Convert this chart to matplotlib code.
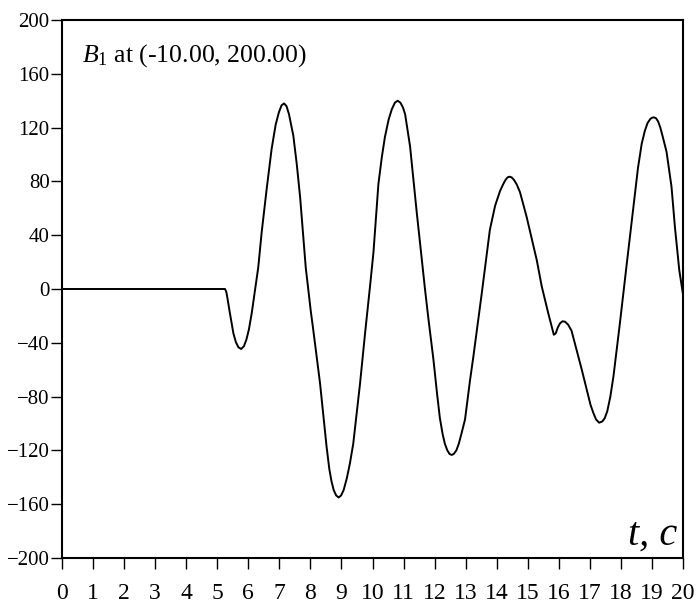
import matplotlib
matplotlib.use("Agg")
import matplotlib.pyplot as plt

plt.rcParams['font.family'] = ['Liberation Serif', 'DejaVu Serif']
plt.rcParams['mathtext.fontset'] = 'custom'
plt.rcParams['mathtext.rm'] = 'Liberation Serif'
plt.rcParams['mathtext.it'] = 'Liberation Serif:italic'

# time (s) and B1 values
t = [0, 5.25, 5.29, 5.33, 5.39, 5.46, 5.52, 5.6, 5.68, 5.77, 5.86, 5.94, 6.02,
     6.11, 6.22, 6.32, 6.43, 6.59, 6.75, 6.88, 6.98, 7.07, 7.15, 7.23, 7.31,
     7.45, 7.56, 7.67, 7.85, 8.01, 8.09, 8.2, 8.31, 8.42, 8.52, 8.61, 8.68,
     8.75, 8.83, 8.91, 8.99, 9.07, 9.17, 9.27, 9.38, 9.6, 9.76, 9.92, 10.03,
     10.19, 10.30, 10.40, 10.52, 10.62, 10.72, 10.81, 10.9, 10.98, 11.05,
     11.21, 11.42, 11.56, 11.69, 11.8, 11.96, 12.08, 12.17, 12.26, 12.33,
     12.41, 12.48, 12.55, 12.62, 12.7, 12.78, 12.86, 12.98, 13.14, 13.25,
     13.52, 13.78, 13.95, 14.11, 14.2, 14.28, 14.35, 14.41, 14.48, 14.56,
     14.65, 14.75, 14.96, 15.29, 15.45, 15.66, 15.76, 15.84, 15.9, 15.97,
     16.04, 16.12, 16.2, 16.3, 16.41, 16.57, 16.74, 16.9, 17.02, 17.11, 17.2,
     17.3, 17.4, 17.48, 17.56, 17.66, 17.76, 17.97, 18.18, 18.4, 18.55, 18.67,
     18.77, 18.86, 18.95, 19.01, 19.07, 19.13, 19.2, 19.27, 19.35, 19.47,
     19.63, 19.74, 19.88, 20]
b1 = [0, 0, -2, -7, -15.6, -25, -33, -39.5, -43.3, -44.6, -42.5, -37.5, -30,
      -18, 0, 16, 42, 74, 104, 122, 131, 136.5, 138, 136, 130,
      114, 93, 68, 16, -16, -30, -50, -70, -95, -117, -134, -143,
      -149.5, -153.5, -155, -153.5, -149.5, -141, -130, -115, -70, -33, 2, 27,
      78, 98, 113, 126, 133.5, 138.5, 140, 138.5, 135, 130,
      106, 58, 28, 0, -22, -52, -78, -96, -108, -115,
      -120, -122.6, -123.4, -122.6, -120, -115, -108, -97, -68, -50,
      -3, 44, 62, 73, 77.5, 81, 83, 83.5, 83, 81,
      77.5, 72, 54, 21.5, 2, -18, -27, -34, -33, -28.5,
      -25.5, -24, -24.3, -26.5, -31, -45, -60, -75, -86, -92, -97,
      -99.4, -98.5, -96, -91, -80, -65, -25, 17, 60, 90, 108,
      117.5, 123.5, 126.5, 127.4, 127.6, 127, 124.5, 120, 113, 102,
      76, 46, 14, -4]

xticks = list(range(0, 21))
yticks = list(range(-200, 201, 40))

fig = plt.figure(figsize=(6.96, 6.05), dpi=100)
ax = fig.add_axes([62/696, 1-558/605, (683-62)/696, (558-20)/605])
ax.plot(t, b1, color='black', lw=1.4)

ax.set_xlim(0, 20)
ax.set_ylim(-200, 200)
ax.set_xticks(xticks)
ax.set_yticks(yticks)
ax.tick_params(axis='x', direction='out', length=8, width=1, pad=10, labelsize=17)
ax.tick_params(axis='y', direction='out', length=8, width=1, pad=1, labelsize=15)
for s in ax.spines.values():
    s.set_linewidth(1.5)

ax.text(0.032, 0.922, r'$B_1$ at (-10.00, 200.00)', transform=ax.transAxes,
        fontsize=18.5, ha='left', va='baseline')
ax.text(0.99, 0.024, 't, c', transform=ax.transAxes, fontsize=29,
        style='italic', ha='right', va='baseline')

fig.savefig('out.png', dpi=100)
